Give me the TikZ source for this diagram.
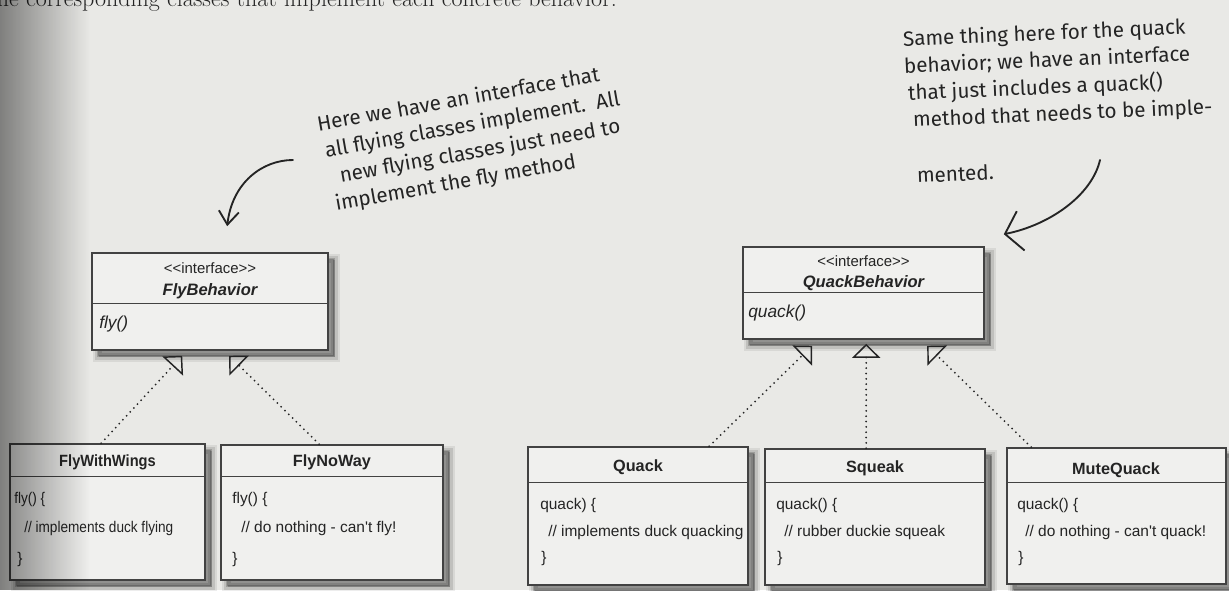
\documentclass[tikz,border=0pt]{standalone}
\usepackage{fontspec}
\newfontfamily\uml{Liberation Sans}
\newfontfamily\hand{Fira Sans}
\usetikzlibrary{arrows.meta,shadows,fit,calc,fadings}
\definecolor{paper}{RGB}{233,233,230}
\definecolor{boxfill}{RGB}{240,240,238}
\definecolor{ink}{RGB}{36,36,36}
\definecolor{rule}{RGB}{66,66,66}
\tikzfading[name=gutterfade, left color=transparent!0, right color=transparent!100]
\tikzset{
  umlbox/.style={draw=rule, line width=1.2pt, fill=boxfill, inner sep=0pt,
    general shadow={fill=black, draw=black, line width=8pt, opacity=0.07, shadow xshift=5pt, shadow yshift=-5pt},
    general shadow={fill=black, draw=black, line width=5pt, opacity=0.11, shadow xshift=5pt, shadow yshift=-5pt},
    general shadow={fill=black, draw=black, line width=2pt, opacity=0.18, shadow xshift=4.5pt, shadow yshift=-4.5pt}},
  divider/.style={draw=rule, line width=1pt},
  stereo/.style={font=\uml\fontsize{11.2}{13}\selectfont, text=ink, inner sep=0pt},
  ititle/.style={font=\uml\bfseries\itshape\fontsize{12.4}{14}\selectfont, text=ink, inner sep=0pt},
  imethod/.style={font=\uml\itshape\fontsize{13}{15}\selectfont, text=ink, inner sep=0pt, anchor=west},
  ctitle/.style={font=\uml\bfseries\fontsize{12.2}{14}\selectfont, text=ink, inner sep=0pt},
  code/.style={font=\uml\fontsize{11.6}{14}\selectfont, text=ink, inner sep=0pt, anchor=west},
  impl/.style={draw=ink, line width=1.5pt, dash pattern=on 0pt off 4pt, line cap=round,
    -{Triangle[open, length=10.5pt, width=21pt, line width=1.1pt]}},
  note/.style={font=\hand\fontsize{15.5}{20.25}\selectfont, text=ink, inner sep=0pt, align=left, anchor=north west},
  handarrowA/.style={draw=ink, line width=1.4pt, line cap=round, -{Straight Barb[length=10pt, width=15pt]}},
  handarrowB/.style={draw=ink, line width=1.4pt, line cap=round, -{Straight Barb[length=12pt, width=30pt]}}
}
\begin{document}
\begin{tikzpicture}[x=0.75pt, y=-0.75pt]
\useasboundingbox (0,0) rectangle (1229,590);
\clip (0,0) rectangle (1229,590);
\fill[paper] (0,0) rectangle (1229,590);

% cut-off line of page text
\node[anchor=base west, inner sep=0pt, text=ink, font=\fontsize{18}{22}\selectfont] (pagetext) at (-12,6.5)
  {the corresponding classes that implement each concrete behavior.};

% handwritten notes
\node[note, rotate=10] (n1) at (315.4,115.2)
  {Here we have an interface that\\
   \hspace*{2.5pt}all flying classes implement.\ \ All\\
   \hspace*{10pt}new flying classes just need to\\
   \hspace*{3pt}implement the fly method};

\node[note, rotate=2.5] (n2) at (902.3,30)
  {Same thing here for the quack\\
   behavior; we have an interface\\
   \hspace*{2pt}that just includes a quack()\\
   \hspace*{5pt}method that needs to be imple-};
\node[note, anchor=base west, rotate=2.5] (n2e) at (917,183) {mented.};

% interfaces
\node[umlbox, fit={(92,253) (328,350)}] (fb) {};
\draw[divider] ($(fb.north west)+(0,51)$) -- ($(fb.north east)+(0,51)$);
\node[stereo] (fbs) at (210,268) {\textless\textless interface\textgreater\textgreater};
\node[ititle] (fbt) at (210,291) {FlyBehavior};
\node[imethod] (fbm) at (99,324) {fly()};

\node[umlbox, fit={(743,247) (984,339)}] (qb) {};
\draw[divider] ($(qb.north west)+(0,46)$) -- ($(qb.north east)+(0,46)$);
\node[stereo] (qbs) at (863.5,261) {\textless\textless interface\textgreater\textgreater};
\node[ititle] (qbt) at (863.5,283) {QuackBehavior};
\node[imethod] (qbm) at (748,313) {quack()};

% concrete classes
\node[umlbox, fit={(10,444) (205,580)}] (fww) {};
\draw[divider] ($(fww.north west)+(0,33)$) -- ($(fww.north east)+(0,33)$);
\node[ctitle] (fwwt) at (107.5,462) {\scalebox{0.9}[1]{FlyWithWings}};
\node[code] (fww1) at (14,499) {\scalebox{0.88}[1]{fly() \{}};
\node[code] (fww2) at (24,528) {\scalebox{0.88}[1]{// implements duck flying}};
\node[code] (fww3) at (17,559) {\}};

\node[umlbox, fit={(221,445) (443,580)}] (fnw) {};
\draw[divider] ($(fnw.north west)+(0,32)$) -- ($(fnw.north east)+(0,32)$);
\node[ctitle] (fnwt) at (332,462) {FlyNoWay};
\node[code] (fnw1) at (232,499) {fly() \{};
\node[code] (fnw2) at (241,528) {// do nothing - can't fly!};
\node[code] (fnw3) at (232,559) {\}};

\node[umlbox, fit={(528,447) (748,585)}] (quack) {};
\draw[divider] ($(quack.north west)+(0,36)$) -- ($(quack.north east)+(0,36)$);
\node[ctitle] (quackt) at (638,467) {Quack};
\node[code] (quack1) at (540,505) {quack) \{};
\node[code] (quack2) at (548,532) {// implements duck quacking};
\node[code] (quack3) at (541,558) {\}};

\node[umlbox, fit={(765,449) (985,585)}] (squeak) {};
\draw[divider] ($(squeak.north west)+(0,34)$) -- ($(squeak.north east)+(0,34)$);
\node[ctitle] (squeakt) at (875,468) {Squeak};
\node[code] (squeak1) at (776,505) {quack() \{};
\node[code] (squeak2) at (784,532) {// rubber duckie squeak};
\node[code] (squeak3) at (777,558) {\}};

\node[umlbox, fit={(1007,448) (1226,584)}] (mute) {};
\draw[divider] ($(mute.north west)+(0,35)$) -- ($(mute.north east)+(0,35)$);
\node[ctitle] (mutet) at (1116,470) {MuteQuack};
\node[code] (mute1) at (1017,505) {quack() \{};
\node[code] (mute2) at (1025,532) {// do nothing - can't quack!};
\node[code] (mute3) at (1018,558) {\}};

% implementation connectors
\draw[impl] ($(fww.north west)+(92,0)$) -- ($(fb.south west)+(91,5)$);
\draw[impl] ($(fnw.north west)+(99,0)$) -- ($(fb.south west)+(138,5)$);
\draw[impl] ($(quack.north west)+(182,0)$) -- ($(qb.south west)+(70,6)$);
\draw[impl] ($(squeak.north west)+(102,0)$) -- ($(qb.south west)+(124,4)$);
\draw[impl] ($(mute.north west)+(25,0)$) -- ($(qb.south west)+(185,6)$);

% hand-drawn arrows
\coordinate (fa0) at (293,160);
\draw[handarrowA] (fa0) .. controls (262,160) and (232,183) .. ($(fb.north west)+(136,-26)$);
\coordinate (qa0) at (1100,160);
\draw[handarrowB] (qa0) .. controls (1092,195) and (1050,225) .. ($(qb.north east)+(19,-12)$);

% gutter shadow of the page
\fill[black, opacity=0.45, path fading=gutterfade] (0,0) rectangle (90,590);
\end{tikzpicture}
\end{document}
